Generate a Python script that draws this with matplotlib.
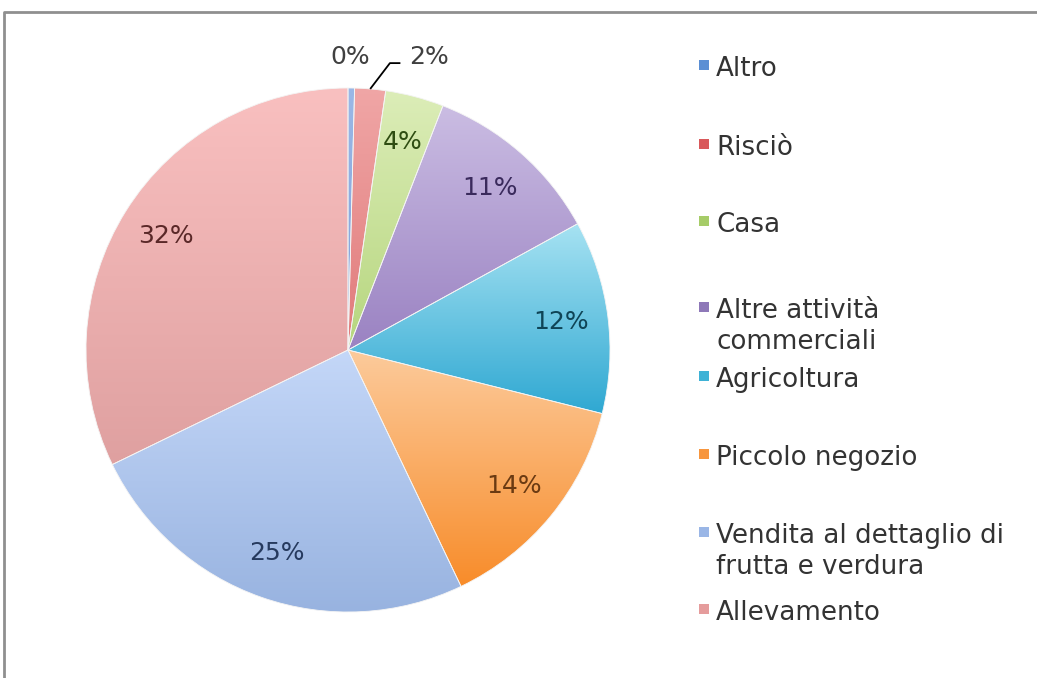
import numpy as np
import matplotlib
matplotlib.use('Agg')
import matplotlib.pyplot as plt
from matplotlib.colors import LinearSegmentedColormap

# data (clockwise from 12 o'clock)
categories = ['Altro', 'Risciò', 'Casa', 'Altre attività\ncommerciali', 'Agricoltura',
              'Piccolo negozio', 'Vendita al dettaglio di\nfrutta e verdura', 'Allevamento']
shares = [0.4, 1.9, 3.6, 11.1, 11.9, 14.0, 24.9, 32.2]

# (top, bottom) gradient colours per slice and label colours
grad_top = ['#9bb8e6', '#f0a6a6', '#dcedb8', '#cbbde3', '#a6e2f2', '#fccb9c', '#c4d7f8', '#f9c0c0']
grad_bot = ['#7f9fd6', '#e07a7a', '#b6d67e', '#9a82c2', '#2fa8d2', '#f88c2a', '#98b3e0', '#dfa0a0']
pct_colors = ['#404040', '#404040', '#2f4d12', '#3a2a5c', '#0f4456', '#6a3a12', '#263a5e', '#5a2828']
legend_colors = ['#5b8fd4', '#d9595b', '#a6cc68', '#8e78b8', '#3fb2d6', '#f7963e', '#9ab6e6', '#e59c9c']

W, H = 1037, 678
fig = plt.figure(figsize=(W / 100, H / 100), dpi=100)

# pie axes: centre ~(348, 350) px, radius ~262 px
cx, cy, r = 348, 350, 262
ax = fig.add_axes([(cx - r) / W, (H - cy - r) / H, 2 * r / W, 2 * r / H])
wedges, texts, autotexts = ax.pie(shares, startangle=90, counterclock=False,
                                  autopct='%1.0f%%', pctdistance=0.82, radius=1,
                                  wedgeprops=dict(linewidth=0.6, edgecolor='#f4f4f4'),
                                  textprops=dict(fontsize=18, family='DejaVu Sans'))

grad = np.linspace(0, 1, 256).reshape(-1, 1)
for w, c0, c1 in zip(wedges, grad_top, grad_bot):
    w.set_facecolor('none')
    bb = w.get_path().get_extents()
    cmap = LinearSegmentedColormap.from_list('g', [c0, c1])
    im = ax.imshow(grad, cmap=cmap, extent=[bb.x0, bb.x1, bb.y0, bb.y1],
                   origin='upper', aspect='auto', zorder=0.5, interpolation='bilinear')
    im.set_clip_path(w)

for t, c in zip(autotexts, pct_colors):
    t.set_color(c)

# small slices: labels outside, with leader line for the second
autotexts[0].set_position((0.01, 1.12))
autotexts[1].set_position((0.31, 1.12))
mid = np.deg2rad(90 - 3.6 * (shares[0] + shares[1] / 2))
ax.plot([np.cos(mid), 0.16, 0.2], [np.sin(mid), 1.095, 1.095], color='black', lw=1.3,
        solid_capstyle='butt', clip_on=False)

ax.set_xlim(-1, 1)
ax.set_ylim(-1, 1)
ax.set_aspect('equal')
ax.axis('off')

# overlay in pixel coordinates for legend and frame
ov = fig.add_axes([0, 0, 1, 1], zorder=-1)
ov.set_xlim(0, W)
ov.set_ylim(H, 0)
ov.axis('off')
ov.plot([4, 4, W], [H, 12, 12], color='#8f8f8f', lw=2)

lg = fig.add_axes([0, 0, 1, 1])
lg.set_xlim(0, W)
lg.set_ylim(H, 0)
lg.axis('off')
baselines = [76, 155, 232, 318, 387, 465, 543, 620]
for lab, col, yb in zip(categories, legend_colors, baselines):
    lg.scatter([704], [yb - 11], marker='s', s=60, color=col, edgecolors='none')
    for i, line in enumerate(lab.split('\n')):
        lg.text(716, yb + 31 * i, line, fontsize=18.8, color='#333333', va='baseline', ha='left')

fig.savefig('out.png', dpi=100, facecolor='white')
